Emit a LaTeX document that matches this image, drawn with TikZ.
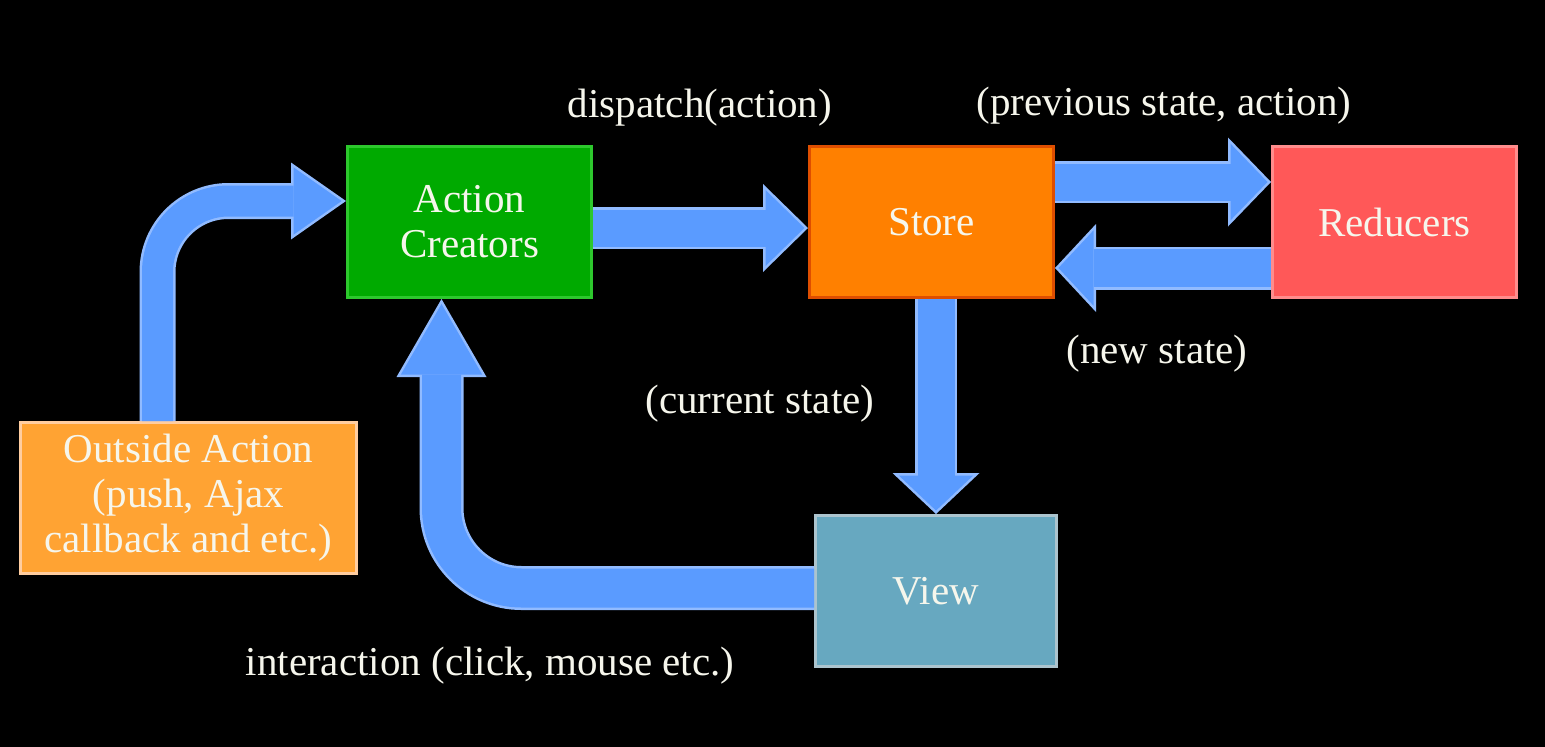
\documentclass[tikz,border=0pt]{standalone}
\usepackage{fontspec}
\setmainfont{Liberation Serif}
\usetikzlibrary{arrows.meta}

\definecolor{acfill}{RGB}{0,170,0}
\definecolor{acedge}{RGB}{45,200,45}
\definecolor{stfill}{RGB}{255,128,0}
\definecolor{stedge}{RGB}{222,78,0}
\definecolor{rdfill}{RGB}{255,88,88}
\definecolor{rdedge}{RGB}{255,140,140}
\definecolor{oafill}{RGB}{255,163,51}
\definecolor{oaedge}{RGB}{255,205,160}
\definecolor{vwfill}{RGB}{103,168,192}
\definecolor{vwedge}{RGB}{172,196,206}
\definecolor{flowfill}{RGB}{90,155,255}
\definecolor{flowline}{RGB}{145,187,255}
\definecolor{txt}{RGB}{246,246,236}

\tikzset{
  box/.style={rectangle, line width=3pt, inner sep=0pt, align=center,
    minimum width=244pt, minimum height=151pt, text=txt},
  lbl/.style={text=txt, anchor=base, inner sep=0pt},
  flowedge/.style={draw=flowline, line cap=butt},
  flowbody/.style={draw=flowfill, line cap=butt}
}

% block arrow: shaft width, head width, head length, path
\newcommand{\flow}[4]{%
  \pgfmathsetmacro{\tipback}{2.5/sin(atan(#2/2/#3))}%
  \pgfmathsetmacro{\innerlen}{#3-\tipback-2.5}%
  \pgfmathsetmacro{\innerwid}{#2*\innerlen/#3}%
  \pgfmathsetmacro{\innershaft}{#1-5}%
  \draw[flowedge, line width=#1pt,
    -{Triangle[width=#2pt, length=#3pt, line width=0pt]}] #4;
  \draw[flowbody, line width=\innershaft pt, shorten >=\tipback pt,
    -{Triangle[width=\innerwid pt, length=\innerlen pt, line width=0pt]}] #4;
}

\begin{document}
\begin{tikzpicture}[x=1pt, y=-1pt, font=\fontsize{41}{45}\selectfont]
  \useasboundingbox (0,0) rectangle (1545,747);
  \fill[black] (0,0) rectangle (1545,747);

  % boxes
  \node[box, fill=acfill, draw=acedge] (act) at (469.5,222) {Action\\Creators};
  \node[box, fill=stfill, draw=stedge] (store) at (931.5,222) {Store};
  \node[box, fill=rdfill, draw=rdedge] (red) at (1394.5,222) {Reducers};
  \node[box, fill=oafill, draw=oaedge, minimum width=336pt] (out) at (188.5,498)
    {Outside Action\\(push, Ajax\\callback and etc.)};
  \node[box, fill=vwfill, draw=vwedge, minimum width=241pt] (view) at (936,591) {View};

  % arrows
  \flow{36}{77}{55}{[rounded corners=71pt] ([xshift=-31pt]out.north) |- ([yshift=21pt]act.west)}
  \flow{42}{88}{45}{([yshift=-6pt]act.east) -- ([yshift=-6pt]store.west)}
  \flow{42}{89}{43}{([yshift=40pt]store.east) -- ([yshift=40pt]red.west)}
  \flow{43}{88}{41}{([yshift=-46pt]red.west) -- ([yshift=-46pt]store.east)}
  \flow{42}{87}{41}{(store.south -| view.north) -- (view.north)}
  \flow{44}{90}{78}{[rounded corners=80pt] ([yshift=3pt]view.west) -| ([xshift=-28pt]act.south)}

  % labels
  \node[lbl] (dispatch) at (700,117) {dispatch(action)};
  \node[lbl] (prev) at (1164,115) {(previous state, action)};
  \node[lbl] (newst) at (1157,363) {(new state)};
  \node[lbl] (curst) at (760,413) {(current state)};
  \node[lbl] (inter) at (490,675) {interaction (click, mouse etc.)};
\end{tikzpicture}
\end{document}
